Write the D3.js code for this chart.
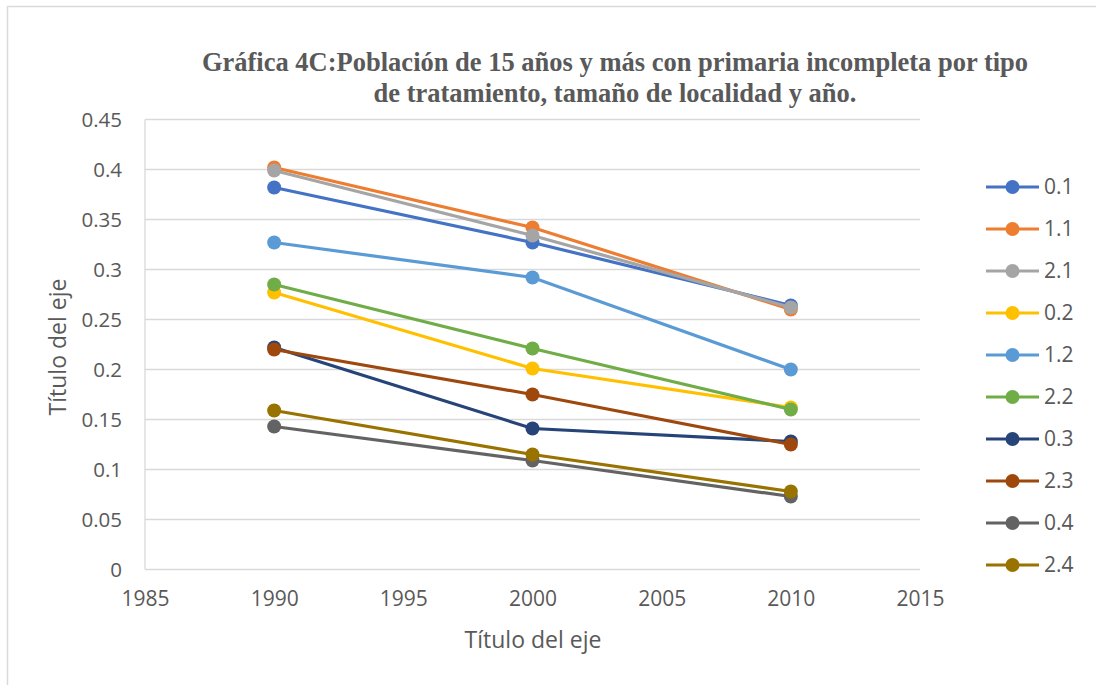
<!DOCTYPE html>
<html>
<head>
<meta charset="utf-8">
<script src="https://cdn.jsdelivr.net/npm/d3@7"></script>
<style>
  body { margin: 0; background: #fff; }
  svg { display: block; }
</style>
</head>
<body>
<div id="chart"></div>
<script>
// años del eje x
let years = [1990, 2000, 2010];

// series (nombre, color y valores por año)
let seriesNames = ["0.1", "1.1", "2.1", "0.2", "1.2", "2.2", "0.3", "2.3", "0.4", "2.4"];
let seriesColors = ["#4472c4", "#ed7d31", "#a5a5a5", "#ffc000", "#5b9bd5",
                    "#70ad47", "#264478", "#9e480e", "#636363", "#997300"];
let v01 = [0.382, 0.327, 0.264];
let v11 = [0.402, 0.342, 0.260];
let v21 = [0.399, 0.334, 0.262];
let v02 = [0.277, 0.201, 0.162];
let v12 = [0.327, 0.292, 0.200];
let v22 = [0.285, 0.221, 0.160];
let v03 = [0.222, 0.141, 0.128];
let v23 = [0.220, 0.175, 0.125];
let v04 = [0.143, 0.109, 0.073];
let v24 = [0.159, 0.115, 0.078];
let seriesValues = [v01, v11, v21, v02, v12, v22, v03, v23, v04, v24];

let xTicks = [1985, 1990, 1995, 2000, 2005, 2010, 2015];
let yTicks = [0, 0.05, 0.1, 0.15, 0.2, 0.25, 0.3, 0.35, 0.4, 0.45];

let titleLines = ["Gráfica 4C:Población de 15 años y más con primaria incompleta por tipo",
                  "de tratamiento, tamaño de localidad y año."];
let axisTitle = "Título del eje";

let width = 1096, height = 685;
let textColor = "#595959";
let font = "'Open Sans', 'Liberation Sans', sans-serif";

let svg = d3.select("#chart").append("svg")
  .attr("width", width)
  .attr("height", height);

// marco del gráfico
svg.append("rect")
  .attr("x", 7.5).attr("y", 6.5)
  .attr("width", width).attr("height", height)
  .attr("fill", "#fff")
  .attr("stroke", "#d9d9d9")
  .attr("stroke-width", 1.5);

let x = d3.scaleLinear().domain([1985, 2015]).range([145, 920]);
let y = d3.scaleLinear().domain([0, 0.45]).range([569.5, 119.5]);

// cuadrícula
svg.append("g")
  .selectAll("line")
  .data(yTicks)
  .enter()
  .append("line")
    .attr("x1", x(1985)).attr("x2", x(2015))
    .attr("y1", d => y(d)).attr("y2", d => y(d))
    .attr("stroke", "#d9d9d9")
    .attr("stroke-width", 1.3);

// eje vertical
svg.append("line")
  .attr("x1", x(1985)).attr("x2", x(1985))
  .attr("y1", y(0)).attr("y2", y(0.45))
  .attr("stroke", "#d9d9d9")
  .attr("stroke-width", 1.3);

let yAxis = svg.append("g")
  .attr("transform", "translate(" + (x(1985) - 23) + ",0)")
  .call(d3.axisLeft(y).tickValues(yTicks).tickSize(0).tickPadding(0).tickFormat(d => String(+d.toFixed(2))));
yAxis.select(".domain").remove();
yAxis.selectAll("text")
  .attr("font-family", font)
  .attr("font-size", 20.5)
  .attr("fill", textColor);

let xAxis = svg.append("g")
  .attr("transform", "translate(0," + (y(0) + 22) + ")")
  .call(d3.axisBottom(x).tickValues(xTicks).tickSize(0).tickPadding(0).tickFormat(d3.format("d")));
xAxis.select(".domain").remove();
xAxis.selectAll("text")
  .attr("font-family", font)
  .attr("font-size", 21)
  .attr("fill", textColor);

// títulos de los ejes
svg.append("text")
  .attr("x", 533).attr("y", 648)
  .attr("text-anchor", "middle")
  .attr("font-family", font)
  .attr("font-size", 23)
  .attr("fill", textColor)
  .text(axisTitle);

svg.append("text")
  .attr("transform", "translate(66,347) rotate(-90)")
  .attr("text-anchor", "middle")
  .attr("font-family", font)
  .attr("font-size", 23)
  .attr("fill", textColor)
  .text(axisTitle);

// título
svg.append("g")
  .selectAll("text")
  .data(titleLines)
  .enter()
  .append("text")
    .attr("x", 615)
    .attr("y", (d, i) => 71 + i * 31)
    .attr("text-anchor", "middle")
    .attr("font-family", "'Liberation Serif', 'Times New Roman', serif")
    .attr("font-weight", "bold")
    .attr("font-size", 26.5)
    .attr("fill", textColor)
    .text(d => d);

// líneas y marcadores
let line = d3.line()
  .x((d, i) => x(years[i]))
  .y(d => y(d));

let series = svg.append("g")
  .selectAll("g")
  .data(seriesValues)
  .enter()
  .append("g");

series.append("path")
  .attr("d", d => line(d))
  .attr("fill", "none")
  .attr("stroke", (d, i) => seriesColors[i])
  .attr("stroke-width", 3.2);

series.each(function(vals, i) {
  d3.select(this).selectAll("circle")
    .data(vals)
    .enter()
    .append("circle")
      .attr("cx", (d, j) => x(years[j]))
      .attr("cy", d => y(d))
      .attr("r", 7)
      .attr("fill", seriesColors[i]);
});

// leyenda
let legend = svg.append("g")
  .selectAll("g")
  .data(seriesNames)
  .enter()
  .append("g")
    .attr("transform", (d, i) => "translate(986," + (187 + i * 42) + ")");

legend.append("line")
  .attr("x1", 0).attr("x2", 53)
  .attr("stroke", (d, i) => seriesColors[i])
  .attr("stroke-width", 3.2);

legend.append("circle")
  .attr("cx", 26.5)
  .attr("r", 7)
  .attr("fill", (d, i) => seriesColors[i]);

legend.append("text")
  .attr("x", 58)
  .attr("dy", "0.35em")
  .attr("font-family", font)
  .attr("font-size", 21)
  .attr("fill", textColor)
  .text(d => d);
</script>
</body>
</html>
